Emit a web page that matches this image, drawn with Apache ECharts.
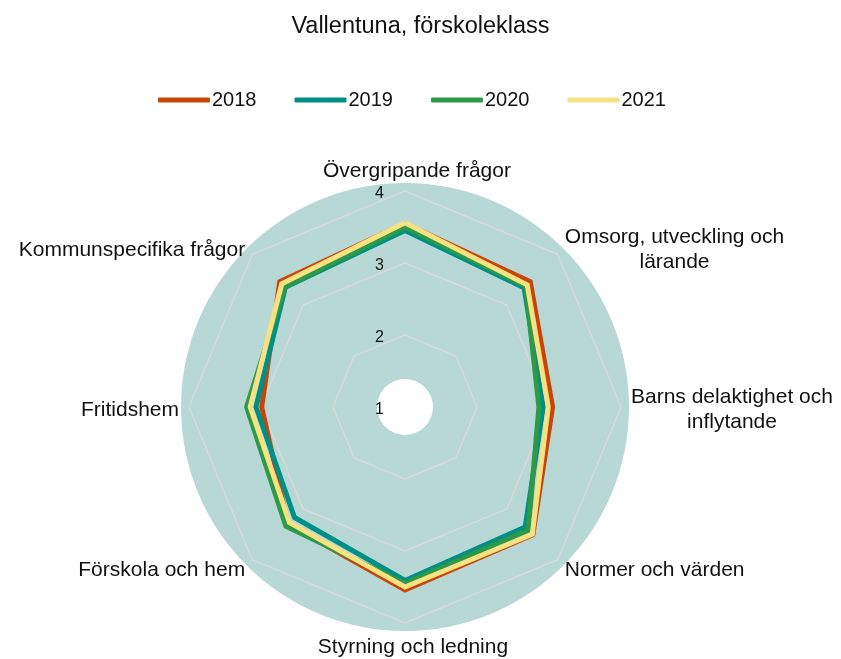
<!DOCTYPE html>
<html>
<head>
<meta charset="utf-8">
<script src="https://cdn.jsdelivr.net/npm/echarts@6/dist/echarts.min.js"></script>
<style>html,body{margin:0;padding:0;background:#fff}#c{width:841px;height:659px}</style>
</head>
<body>
<div id="c"></div>
<script>
// Categories in clockwise order starting from the top
const categories = [
  'Övergripande frågor',
  'Omsorg, utveckling och\nlärande',
  'Barns delaktighet och\ninflytande',
  'Normer och värden',
  'Styrning och ledning',
  'Förskola och hem',
  'Fritidshem',
  'Kommunspecifika frågor'
];
const years = ['2018', '2019', '2020', '2021'];
const colors = ['#C8450A', '#008F86', '#2E9947', '#F7E283'];
const v2018 = [3.55, 3.46, 3.05, 3.51, 3.54, 3.30, 2.99, 3.46];
const v2019 = [3.45, 3.34, 2.92, 3.36, 3.41, 3.17, 3.07, 3.35];
const v2020 = [3.50, 3.37, 2.86, 3.42, 3.45, 3.34, 3.20, 3.36];
const v2021 = [3.56, 3.40, 2.99, 3.50, 3.50, 3.27, 3.15, 3.42];
const radialTicks = [1, 2, 3, 4];

// ECharts radar goes counter-clockwise: reorder
const order = [0, 7, 6, 5, 4, 3, 2, 1];
const allValues = [v2018, v2019, v2020, v2021];

const mainIndicators = order.map((i, k) => {
  const o = { name: categories[i], min: radialTicks[0], max: radialTicks[radialTicks.length - 1] };
  if (k === 0) o.axisLabel = { show: true };
  return o;
});
const discIndicators = order.map(() => ({ name: '', min: 0, max: 1 }));

const font = 'Liberation Sans, Arial, sans-serif';
function disc(z, radius, color) {
  return {
    z: z,
    center: [405, 407], radius: radius, shape: 'circle', splitNumber: 1,
    indicator: discIndicators,
    axisName: { show: false },
    axisLine: { show: false }, axisTick: { show: false }, axisLabel: { show: false },
    splitLine: { show: false },
    splitArea: { show: true, areaStyle: { color: [color] } },
    silent: true
  };
}

const chart = echarts.init(document.getElementById('c'));
chart.setOption({
  animation: false,
  title: {
    text: 'Vallentuna, förskoleklass',
    left: 'center', top: 10, padding: [5, 15, 5, 5],
    textStyle: { fontFamily: font, fontSize: 23.5, fontWeight: 'normal', color: '#111' }
  },
  legend: {
    top: 85, left: 153,
    icon: 'roundRect', itemWidth: 52, itemHeight: 5, itemGap: 38,
    textStyle: { fontFamily: font, fontSize: 20, color: '#111', padding: [0, 0, 0, -3] },
    data: years
  },
  radar: [
    disc(0, 224, '#B8D8D5'),
    disc(0, 28, '#ffffff'),
    {
      z: 1,
      center: [405, 407], radius: 216, shape: 'polygon', splitNumber: 3,
      indicator: mainIndicators,
      nameGap: 10,
      axisName: {
        color: '#111', fontFamily: font, fontSize: 21, lineHeight: 25,
        padding: [6, 0, 0, 0],
        formatter: function (name, ind) {
          const style = name === categories[0] ? 't' : (name === categories[4] ? 'b' : 'c');
          return name.split('\n').map(l => '{' + style + '|' + l + '}').join('\n');
        },
        rich: {
          c: { align: 'center', fontFamily: font, fontSize: 21, color: '#111', lineHeight: 25 },
          t: { align: 'center', fontFamily: font, fontSize: 21, color: '#111', lineHeight: 19, padding: [0, 0, 0, 24] },
          b: { align: 'center', fontFamily: font, fontSize: 21, color: '#111', lineHeight: 17, padding: [0, 0, 0, 16] }
        }
      },
      axisLine: { show: false }, axisTick: { show: false },
      axisLabel: {
        show: false, margin: 21, fontFamily: font, fontSize: 16, color: '#111',
        formatter: function (v) { return '{l|' + v + '}'; },
        rich: { l: { fontFamily: font, fontSize: 16, color: '#111', padding: [6, 0, 0, 0] } }
      },
      splitLine: { show: true, lineStyle: { color: '#D9D9D9', width: 1.5 } },
      splitArea: { show: false }
    }
  ],
  series: [{
    type: 'radar',
    radarIndex: 2,
    symbol: 'none',
    data: years.map((y, s) => ({
      name: y,
      value: order.map(i => allValues[s][i]),
      itemStyle: { color: colors[s] },
      lineStyle: { color: colors[s], width: 5, join: 'miter' }
    }))
  }]
});
</script>
</body>
</html>
